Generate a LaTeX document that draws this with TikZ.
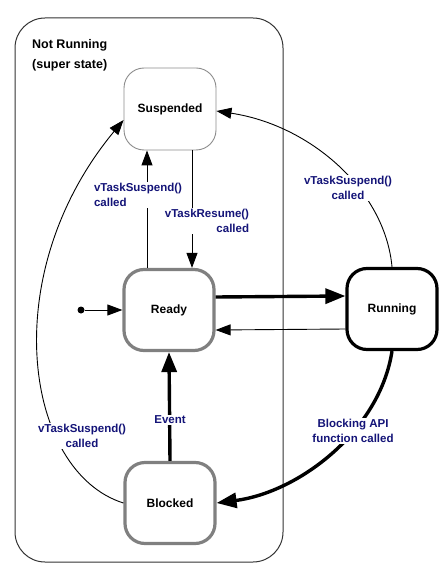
\documentclass[tikz,border=0pt]{standalone}
\usepackage{fontspec}
\setmainfont{Liberation Sans}
\usetikzlibrary{arrows.meta,calc}
\definecolor{lbl}{RGB}{20,20,120}
\definecolor{bgray}{RGB}{128,128,128}
\definecolor{lgray}{RGB}{140,140,140}
\definecolor{dgray}{RGB}{50,50,50}
\tikzset{
  state/.style={rounded corners=20pt, minimum width=90pt, minimum height=81pt, inner sep=0pt,
    font=\fontsize{12}{14}\selectfont\bfseries, fill=white},
  graystate/.style={state, draw=bgray, line width=3.2pt},
  blackstate/.style={state, draw=black, line width=3.2pt},
  thinstate/.style={state, draw=lgray, line width=0.9pt, minimum width=92pt, minimum height=82pt},
  lab/.style={text=lbl, font=\fontsize{11.5}{15}\selectfont\bfseries, fill=white, inner sep=1pt},
  thinarr/.style={line width=0.9pt, -{Triangle[length=15pt,width=11pt]}},
  thickarr/.style={line width=3.4pt, -{Triangle[length=20pt,width=15pt]}},
}
\begin{document}
\begin{tikzpicture}[x=1pt,y=-1pt]
\useasboundingbox (0,0) rectangle (446,569);
% super state
\node[draw=dgray, line width=1pt, rounded corners=30pt, minimum width=268pt, minimum height=544pt, inner sep=0pt] (super) at (149,290) {};
\node[anchor=north west, align=left, font=\fontsize{12.5}{20}\selectfont\bfseries, inner sep=0pt] (suplab) at (32,39) {Not Running\\(super state)};
% states
\node[thinstate] (susp) at (170,109) {Suspended};
\node[graystate] (ready) at (169,310) {Ready};
\node[blackstate] (run) at (392,309) {Running};
\node[graystate] (blk) at (170,503) {Blocked};
% initial
\node[circle, fill=black, inner sep=0pt, minimum size=7pt] (init) at (81,310) {};
% connectors
\draw[thinarr] (init) -- (ready.west);
\draw[thickarr] ([yshift=13pt]ready.east) -- ([yshift=13pt]run.west);
\draw[thinarr] ([yshift=-20pt]run.west) -- ([yshift=-20pt]ready.east);
\draw[thinarr] ([xshift=-22pt]ready.north) -- ([xshift=-23pt]susp.south);
\draw[thinarr] ([xshift=22pt]susp.south) -- ([xshift=23pt]ready.north);
\draw[thickarr] (blk.north) -- (ready.south);
\coordinate (runtop) at ([xshift=0pt]run.north);
\coordinate (susprt) at ([yshift=-2pt]susp.east);
\draw[thinarr] (runtop) .. controls (385,190) and (310,125) .. (susprt);
\coordinate (blkl) at (blk.west);
\coordinate (suspl) at ([yshift=-11pt]susp.west);
\draw[thinarr] (blkl) .. controls (25,472) and (-5,275) .. (suspl);
\coordinate (runbot) at (run.south);
\draw[thickarr] (runbot) .. controls (380,430) and (300,492) .. (blk.east);
% labels
\node[lab, align=left] (l1) at (138,195) {vTaskSuspend()\\called};
\node[lab, align=right] (l2) at (207,221) {vTaskResume()\\called};
\node[lab, align=center] (l3) at (348,188) {vTaskSuspend()\\called};
\node[lab, align=center] (l4) at (82,436) {vTaskSuspend()\\called};
\node[lab] (l5) at (170,420) {Event};
\node[lab, align=center] (l6) at (353,431) {Blocking API\\function called};
\end{tikzpicture}
\end{document}
